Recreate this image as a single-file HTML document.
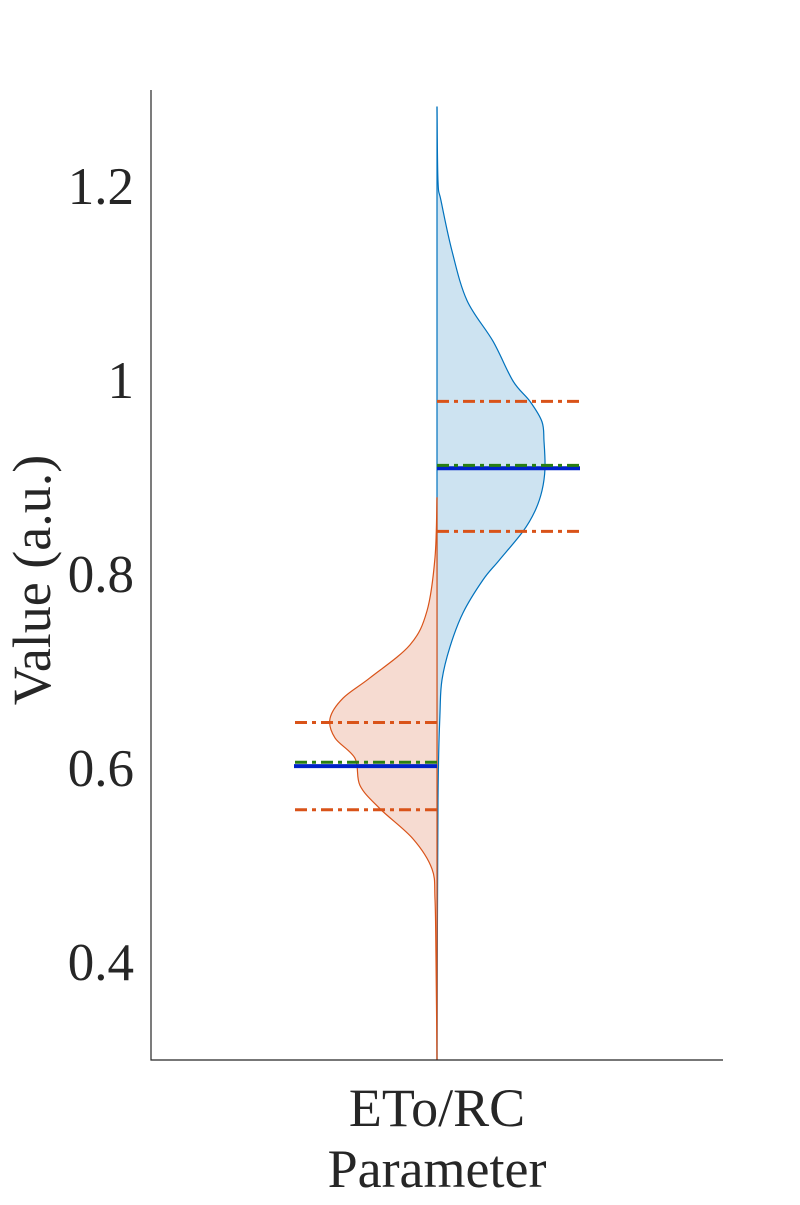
<!DOCTYPE html>
<html><head><meta charset="utf-8"><style>
body{margin:0;background:#fff}
svg text{font-family:"Liberation Serif",serif;fill:#262626}
</style></head><body>
<svg id="c" width="800" height="1200"></svg>
<script>
const yTicks=[0.4,0.6,0.8,1.0,1.2];
const yTickLabels=["0.4","0.6","0.8","1","1.2"];
const categories=["ETo/RC"];
const blueValues=[1.283,1.206,1.186,1.134,1.083,1.041,1.000,0.979,0.958,0.938,0.910,0.887,0.866,0.845,0.815,0.795,0.761,0.726,0.692,0.658,0.568,0.300];
const blueDensity=[0,1,4,15,30,56,76,93,105,107,108,105,98,86,62,46,26,13,5,3,1,0];
const orangeValues=[0.880,0.818,0.763,0.728,0.694,0.673,0.652,0.632,0.611,0.583,0.559,0.528,0.497,0.466,0.404,0.300];
const orangeDensity=[0,2,10,27,67,94,107,102,82,77,57,24,5,2,1,0];
const blueStats={mean:0.910,median:0.913,q1:0.845,q3:0.979};
const orangeStats={mean:0.603,median:0.607,q1:0.558,q3:0.648};

const svg=document.getElementById('c');
const NS='http://www.w3.org/2000/svg';
const X0=151,X1=723,Y0=1060,Y1=90,vmin=0.3,vmax=1.3,cx=437;
const y=v=>Y0-(v-vmin)/(vmax-vmin)*(Y0-Y1);
const w=d=>d*1.0;
function mk(t,a){const e=document.createElementNS(NS,t);for(const k in a)e.setAttribute(k,a[k]);svg.appendChild(e);return e;}
function smooth(pts){
  let d=`M${pts[0][0]},${pts[0][1]}`;
  for(let i=0;i<pts.length-1;i++){
    const p0=pts[Math.max(0,i-1)],p1=pts[i],p2=pts[i+1],p3=pts[Math.min(pts.length-1,i+2)];
    const c1=[p1[0]+(p2[0]-p0[0])/6,p1[1]+(p2[1]-p0[1])/6];
    const c2=[p2[0]-(p3[0]-p1[0])/6,p2[1]-(p3[1]-p1[1])/6];
    d+=` C${c1[0]},${c1[1]} ${c2[0]},${c2[1]} ${p2[0]},${p2[1]}`;
  }
  return d;
}
function violin(vals,dens,side,fill,stroke,name){
  const pts=vals.map((v,i)=>[cx+side*w(dens[i]),y(v)]);
  const sd=smooth(pts);
  const p=mk('path',{d:sd+` L${cx},${y(vals[vals.length-1])} L${cx},${y(vals[0])} Z`,fill:fill,stroke:'none'});
  
  
  const o=mk('path',{d:sd,fill:'none',stroke:stroke,'stroke-width':1.2});
  
  
  const l=mk('line',{x1:cx,x2:cx,y1:y(vals[0]),y2:y(vals[vals.length-1]),stroke:stroke,'stroke-width':1.2});
  
  
}
violin(blueValues,blueDensity,1,'#cde3f1','#0072bd','blue-violin');
violin(orangeValues,orangeDensity,-1,'#f6dbd1','#d95319','orange-violin');

function stats(s,side,name){
  const xa=cx,xb=cx+side*143;
  [['q1',s.q1],['q3',s.q3]].forEach(([k,v])=>{
    const e=mk('line',{x1:xa,x2:xb,y1:y(v),y2:y(v),stroke:'#d95319','stroke-width':3,'stroke-dasharray':'12 5 4 5'});
    
    
  });
  const m=mk('line',{x1:xa,x2:xb,y1:y(s.mean),y2:y(s.mean),stroke:'#0022c8','stroke-width':4});
  
  
  const md=mk('line',{x1:xa,x2:xb,y1:y(s.median),y2:y(s.median),stroke:'#2a7f12','stroke-width':3,'stroke-dasharray':'12 5 4 5'});
  
  
}
stats(blueStats,1,'blue');
stats(orangeStats,-1,'orange');

const ax=mk('path',{d:`M${X0},${Y1} L${X0},${Y0} L${X1},${Y0}`,fill:'none',stroke:'#262626','stroke-width':1.2});


yTicks.forEach((v,i)=>{
  const tx=mk('text',{x:134,y:y(v)+17,'text-anchor':'end','font-size':53});
  tx.textContent=yTickLabels[i];
  
  
});
categories.forEach(c=>{
  const t=mk('text',{x:cx,y:1126,'text-anchor':'middle','font-size':54});
  t.textContent=c;
  
  
});
const xt=mk('text',{x:cx,y:1187,'text-anchor':'middle','font-size':54});
xt.textContent='Parameter';


const yt=mk('text',{x:0,y:0,'text-anchor':'middle','font-size':54,transform:'translate(50,580) rotate(-90)'});
yt.textContent='Value (a.u.)';


</script>
</body></html>
